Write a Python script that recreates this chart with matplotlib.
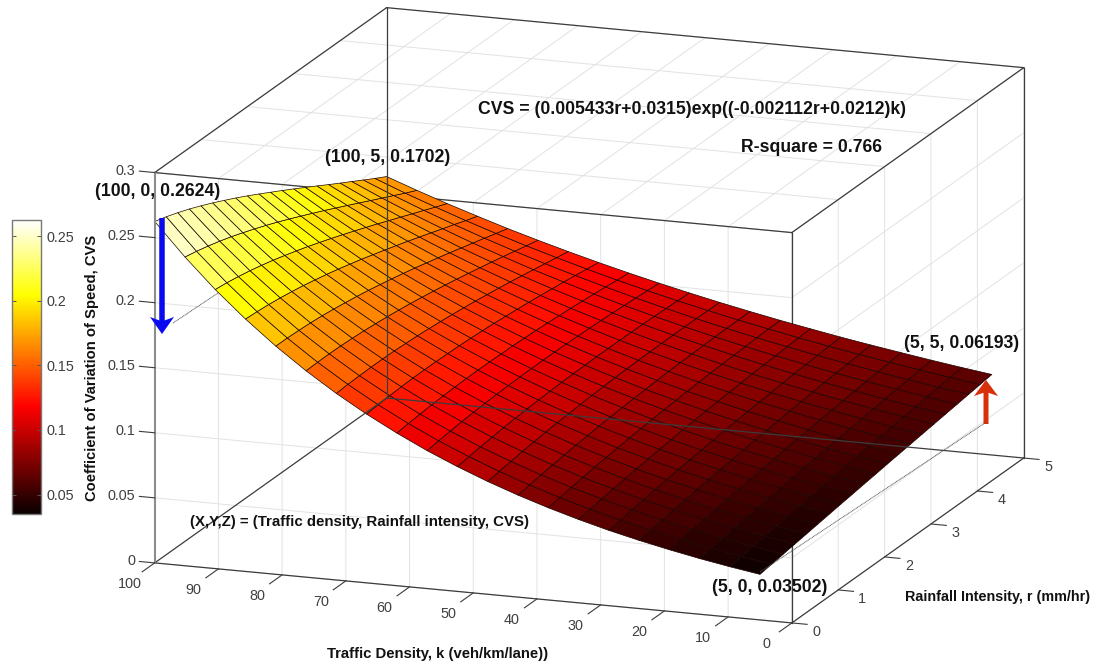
import numpy as np
from matplotlib import pyplot as plt
from matplotlib.patches import FancyArrow
from mpl_toolkits.mplot3d import proj3d

plt.rcParams['font.family'] = ['Liberation Sans', 'DejaVu Sans']
plt.rcParams['grid.color'] = '#e2e2e2'
plt.rcParams['grid.linewidth'] = 0.7

# surface values, one list per rainfall step
k_values = [5, 9.75, 14.5, 19.25, 24, 28.75, 33.5, 38.25, 43, 47.75, 52.5,
            57.25, 62, 66.75, 71.5, 76.25, 81, 85.75, 90.5, 95.25, 100]
r_values = [0, 0.25, 0.5, 0.75, 1, 1.25, 1.5, 1.75, 2, 2.25, 2.5,
            2.75, 3, 3.25, 3.5, 3.75, 4, 4.25, 4.5, 4.75, 5]

cvs_r000 = [.0350, .0387, .0428, .0474, .0524, .0579, .0641, .0709, .0784, .0867, .0959, .1060, .1173, .1297, .1434, .1586, .1754, .1940, .2145, .2373, .2624]
cvs_r025 = [.0364, .0402, .0444, .0489, .0540, .0595, .0657, .0725, .0799, .0882, .0973, .1073, .1184, .1306, .1441, .1589, .1753, .1934, .2134, .2354, .2597]
cvs_r050 = [.0378, .0416, .0458, .0504, .0555, .0611, .0672, .0739, .0814, .0895, .0985, .1084, .1193, .1313, .1444, .1590, .1749, .1925, .2118, .2331, .2565]
cvs_r075 = [.0392, .0431, .0473, .0519, .0570, .0625, .0686, .0753, .0827, .0908, .0996, .1094, .1200, .1318, .1446, .1588, .1743, .1913, .2100, .2305, .2530]
cvs_r100 = [.0406, .0445, .0487, .0533, .0584, .0639, .0700, .0767, .0839, .0919, .1006, .1102, .1206, .1321, .1446, .1583, .1734, .1898, .2078, .2276, .2491]
cvs_r125 = [.0420, .0459, .0501, .0547, .0598, .0653, .0713, .0779, .0851, .0929, .1015, .1108, .1210, .1322, .1444, .1577, .1722, .1881, .2054, .2243, .2450]
cvs_r150 = [.0434, .0473, .0515, .0561, .0611, .0666, .0725, .0790, .0861, .0938, .1022, .1113, .1213, .1321, .1439, .1568, .1708, .1861, .2027, .2209, .2406]
cvs_r175 = [.0448, .0486, .0529, .0574, .0624, .0678, .0737, .0801, .0871, .0946, .1028, .1117, .1214, .1319, .1434, .1558, .1693, .1840, .1999, .2173, .2361]
cvs_r200 = [.0461, .0500, .0542, .0587, .0637, .0690, .0748, .0811, .0879, .0953, .1033, .1120, .1214, .1316, .1426, .1546, .1676, .1817, .1969, .2135, .2314]
cvs_r225 = [.0475, .0513, .0555, .0600, .0649, .0702, .0759, .0820, .0887, .0959, .1037, .1121, .1212, .1311, .1417, .1533, .1657, .1792, .1937, .2095, .2265]
cvs_r250 = [.0488, .0527, .0568, .0613, .0661, .0713, .0769, .0829, .0894, .0964, .1040, .1122, .1210, .1305, .1407, .1518, .1637, .1766, .1904, .2054, .2215]
cvs_r275 = [.0502, .0540, .0581, .0625, .0672, .0723, .0778, .0837, .0900, .0969, .1042, .1121, .1206, .1298, .1396, .1502, .1616, .1738, .1870, .2012, .2165]
cvs_r300 = [.0515, .0553, .0593, .0636, .0683, .0733, .0787, .0844, .0906, .0972, .1043, .1120, .1202, .1289, .1384, .1485, .1594, .1710, .1835, .1970, .2114]
cvs_r325 = [.0528, .0565, .0605, .0648, .0694, .0742, .0795, .0851, .0911, .0975, .1044, .1117, .1196, .1280, .1370, .1467, .1570, .1681, .1799, .1926, .2062]
cvs_r350 = [.0541, .0578, .0617, .0659, .0704, .0751, .0802, .0857, .0915, .0977, .1043, .1114, .1189, .1270, .1356, .1448, .1546, .1651, .1763, .1882, .2010]
cvs_r375 = [.0554, .0591, .0629, .0670, .0714, .0760, .0809, .0862, .0918, .0978, .1042, .1110, .1182, .1259, .1341, .1428, .1521, .1620, .1725, .1838, .1957]
cvs_r400 = [.0567, .0603, .0641, .0681, .0723, .0768, .0816, .0867, .0921, .0979, .1040, .1105, .1174, .1247, .1325, .1408, .1495, .1589, .1688, .1793, .1905]
cvs_r425 = [.0580, .0615, .0652, .0691, .0732, .0776, .0822, .0871, .0923, .0979, .1037, .1099, .1165, .1235, .1308, .1387, .1469, .1557, .1650, .1749, .1854]
cvs_r450 = [.0593, .0627, .0663, .0701, .0741, .0783, .0828, .0875, .0925, .0978, .1034, .1093, .1156, .1222, .1291, .1365, .1443, .1526, .1613, .1705, .1802]
cvs_r475 = [.0606, .0639, .0674, .0711, .0749, .0790, .0833, .0879, .0926, .0977, .1030, .1086, .1145, .1208, .1274, .1343, .1416, .1493, .1575, .1660, .1751]
cvs_r500 = [.0619, .0651, .0685, .0721, .0758, .0797, .0839, .0882, .0928, .0976, .1027, .1080, .1136, .1195, .1257, .1322, .1390, .1463, .1538, .1618, .1702]

k_ticks = [0, 10, 20, 30, 40, 50, 60, 70, 80, 90, 100]
r_ticks = [0, 1, 2, 3, 4, 5]
z_ticks = [0, 0.05, 0.1, 0.15, 0.2, 0.25, 0.3]
z_labels = ['0', '0.05', '0.1', '0.15', '0.2', '0.25', '0.3']
bar_ticks = [0.05, 0.1, 0.15, 0.2, 0.25]
bar_labels = ['0.05', '0.1', '0.15', '0.2', '0.25']

cvs = np.array([cvs_r000, cvs_r025, cvs_r050, cvs_r075, cvs_r100, cvs_r125, cvs_r150,
                cvs_r175, cvs_r200, cvs_r225, cvs_r250, cvs_r275, cvs_r300, cvs_r325,
                cvs_r350, cvs_r375, cvs_r400, cvs_r425, cvs_r450, cvs_r475, cvs_r500])
K, R = np.meshgrid(k_values, r_values)

W, H = 1101, 666
fig = plt.figure(figsize=(W / 100, H / 100), dpi=100, facecolor='white')

# axes is a big square so nothing gets clipped, centre of the box lands near (589, 315)
side = 1200
ax = fig.add_axes([-27 / W, -265.5 / H, side / W, side / H], projection='3d', proj_type='ortho')
ax.patch.set_alpha(0)
# seen from below with both floor axes reversed, so the grid sits on the far walls
ax.view_init(elev=-15, azim=-110)
ax.set_box_aspect((1, 1, 0.596), zoom=0.8418)
ax.set_xlim(100, 0, view_margin=0)
ax.set_ylim(5, 0, view_margin=0)
ax.set_zlim(0, 0.3, view_margin=0)
ax.set_xticks(k_ticks)
ax.set_yticks(r_ticks)
ax.set_zticks(z_ticks)
ax.set_xticklabels([])
ax.set_yticklabels([])
ax.set_zticklabels([])
ax.tick_params(axis='both', color=(0, 0, 0, 0))
for axis in (ax.xaxis, ax.yaxis, ax.zaxis):
    axis.set_pane_color((1, 1, 1, 1))
    axis.pane.set_edgecolor((1, 1, 1, 0))
    axis.line.set_color((0, 0, 0, 0))

surf = ax.plot_surface(K, R, cvs, rstride=1, cstride=1, cmap='hot', vmin=0.03502, vmax=0.2624,
                       shade=False, edgecolor='#1a0500', linewidth=0.5)

# box edges, the three round the far corner go behind the surface
edge_col = '#3c3c3c'
far_edges = [([0, 0], [0, 0], [0, 0.3]), ([0, 100], [0, 0], [0.3, 0.3]), ([0, 0], [0, 5], [0.3, 0.3])]
near_edges = [([100, 0], [0, 0], [0, 0]), ([0, 0], [0, 5], [0, 0]), ([0, 100], [5, 5], [0, 0]),
              ([100, 100], [5, 0], [0, 0]), ([100, 100], [5, 5], [0, 0.3]), ([0, 0], [5, 5], [0, 0.3]),
              ([100, 100], [0, 5], [0.3, 0.3]), ([0, 100], [5, 5], [0.3, 0.3])]
for e in far_edges:
    ax.plot(*e, color=edge_col, lw=0.9, zorder=1)
for e in near_edges:
    ax.plot(*e, color=edge_col, lw=0.9, zorder=20)
ax.plot([100, 100], [0, 0], [0, 0.3], color='#8c8c8c', lw=1.5, zorder=20)


# tick label at a 3d spot, projected first so the text itself stays flat
def tick_label(x, y, z, s, **kw):
    px, py, _ = proj3d.proj_transform(x, y, z, ax.get_proj())
    ax.text2D(px, py, s, transform=ax.transData, va='center', fontsize=10.4, color=tick_col, **kw)


# ticks and tick labels by hand, mplot3d puts them on the wrong edges for this view
tick_col = '#404040'
for k in k_ticks:
    ax.plot([k, k], [0, -0.27], [0, 0], color=edge_col, lw=0.8, zorder=20)
    tick_label(k - 0.3, -0.58, -0.0015, str(k), ha='center')
for r in r_ticks:
    ax.plot([0, -2.4], [r, r], [0, 0], color=edge_col, lw=0.8, zorder=20)
    tick_label(-3.8, r, -0.0055, str(r), ha='center')
for z, lab in zip(z_ticks, z_labels):
    ax.plot([100, 102.4], [0, 0], [z, z], color=edge_col, lw=0.8, zorder=20)
    tick_label(103.1, 0, z, lab, ha='right')

# colorbar on the left
cax = fig.add_axes([12 / W, 1 - 514 / H, 29 / W, 294 / H])
cbar = fig.colorbar(surf, cax=cax)
cbar.set_ticks(bar_ticks)
cbar.set_ticklabels(bar_labels)
cax.tick_params(axis='y', left=True, right=True, direction='in', length=3, width=0.7, color='#555555',
                labelsize=10.4, labelcolor=tick_col, pad=4)
cbar.outline.set_edgecolor('#777777')
cbar.outline.set_linewidth(1.0)

# flat layer in pixels for the labels and arrows
top = fig.add_axes([0, 0, 1, 1])
top.set_xlim(0, W)
top.set_ylim(H, 0)
top.axis('off')

big = dict(fontsize=12.7, fontweight='bold', color='#111111', va='center')
top.text(478, 109, 'CVS = (0.005433r+0.0315)exp((-0.002112r+0.0212)k)', **big)
top.text(741, 147, 'R-square = 0.766', **big)
top.text(95, 191, '(100, 0, 0.2624)', **big)
top.text(325, 157, '(100, 5, 0.1702)', **big)
top.text(904, 344, '(5, 5, 0.06193)', **big)
top.text(712, 587, '(5, 0, 0.03502)', **big)

small = dict(fontweight='bold', color='#111111', va='center')
top.text(190, 522, '(X,Y,Z) = (Traffic density, Rainfall intensity, CVS)', fontsize=10.8, **small)
top.text(905, 597, 'Rainfall Intensity, r (mm/hr)', fontsize=10.4, **small)
top.text(438, 654, 'Traffic Density, k (veh/km/lane))', ha='center', fontsize=10.75, **small)
top.text(92, 368, 'Coefficient of Variation of Speed, CVS', ha='center', rotation=90, fontsize=10.65, **small)

# guide lines and arrows
top.plot([173, 218], [323, 293], color='#555555', lw=0.7, ls=(0, (1, 0.6)))
top.plot([760, 985], [572, 423], color='#555555', lw=0.7, ls=(0, (1, 0.6)))
top.add_patch(FancyArrow(162, 218, 0, 116, width=5.5, head_width=24, head_length=17, overhang=0.2,
                         length_includes_head=True, color='#0a0af0', lw=0))
top.add_patch(FancyArrow(986, 424, 0, -44, width=5, head_width=24, head_length=16, overhang=0.2,
                         length_includes_head=True, color='#d9300c', lw=0))

fig.savefig('out.png', dpi=100)
